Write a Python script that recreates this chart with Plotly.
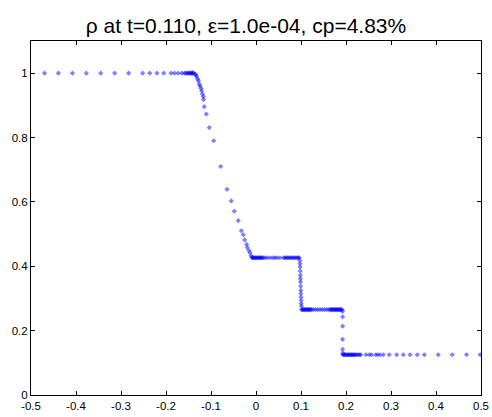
import plotly.graph_objects as go

# ---- data ----
x_left = [-0.470, -0.439, -0.408, -0.377, -0.345, -0.314, -0.283, -0.252, -0.236, -0.220,
          -0.205, -0.189, -0.181, -0.173, -0.165, -0.159, -0.156, -0.153, -0.150, -0.148,
          -0.146, -0.144, -0.142, -0.141]
rho_left = [1.0] * len(x_left)

x_rare = [-0.1393, -0.1356, -0.1333, -0.1319, -0.1296, -0.128, -0.126, -0.1244, -0.122, -0.1207,
          -0.119, -0.117, -0.1165, -0.115, -0.1104, -0.1037, -0.094, -0.0785, -0.0644, -0.0549,
          -0.0482, -0.0393, -0.0326, -0.0282, -0.0252, -0.0207, -0.0193, -0.0156, -0.0133, -0.0111,
          -0.0089]
rho_rare = [1.001, 0.997, 0.995, 0.989, 0.982, 0.976, 0.966, 0.960, 0.953, 0.945,
            0.935, 0.927, 0.918, 0.896, 0.873, 0.831, 0.790, 0.710, 0.639, 0.603,
            0.571, 0.542, 0.510, 0.498, 0.482, 0.468, 0.458, 0.449, 0.442, 0.433,
            0.427]

x_plat1 = [-0.0075, -0.006, -0.004, -0.002, 0.0, 0.002, 0.004, 0.006, 0.008, 0.010,
           0.012, 0.014, 0.016, 0.020, 0.025, 0.031, 0.037, 0.042, 0.047, 0.053,
           0.061, 0.064, 0.067, 0.070, 0.073, 0.076, 0.079, 0.082, 0.085, 0.088,
           0.091, 0.094, 0.096]
rho_plat1 = [0.4265] * len(x_plat1)

x_contact = [0.0975, 0.0978, 0.0980, 0.0982, 0.0985, 0.0987, 0.0990, 0.0992, 0.0995, 0.0997,
             0.1000, 0.1003, 0.1006, 0.1010]
rho_contact = [0.418, 0.408, 0.398, 0.385, 0.372, 0.361, 0.351, 0.338, 0.325, 0.315,
               0.304, 0.294, 0.284, 0.276]

x_plat2 = [0.1015, 0.103, 0.105, 0.107, 0.109, 0.111, 0.113, 0.115, 0.117, 0.119,
           0.121, 0.123, 0.127, 0.132, 0.137, 0.142, 0.147, 0.152, 0.157, 0.162,
           0.165, 0.167, 0.169, 0.171, 0.173, 0.175, 0.177, 0.179, 0.181, 0.183,
           0.185, 0.187, 0.189, 0.191]
rho_plat2 = [0.2656] * len(x_plat2)

x_shock = [0.1925, 0.1925, 0.1925, 0.1925, 0.1925, 0.1928]
rho_shock = [0.260, 0.243, 0.214, 0.173, 0.142, 0.130]

x_right = [0.193, 0.195, 0.197, 0.199, 0.201, 0.203, 0.205, 0.207, 0.209, 0.211,
           0.213, 0.215, 0.217, 0.219, 0.221, 0.224, 0.227, 0.230, 0.233, 0.2444,
           0.2519, 0.2570, 0.2660, 0.2704, 0.2756, 0.283, 0.296, 0.3126, 0.3274, 0.3422,
           0.3585, 0.374, 0.405, 0.436, 0.468, 0.498]
rho_right = [0.125] * len(x_right)

x_ticks = [-0.5, -0.4, -0.3, -0.2, -0.1, 0, 0.1, 0.2, 0.3, 0.4, 0.5]
x_tick_labels = ["-0.5", "-0.4", "-0.3", "-0.2", "-0.1", "0", "0.1", "0.2", "0.3", "0.4", "0.5"]
y_ticks = [0, 0.2, 0.4, 0.6, 0.8, 1]
y_tick_labels = ["0", "0.2", "0.4", "0.6", "0.8", "1"]

title_text = "ρ at t=0.110, ε=1.0e-04, cp=4.83%"

xs = x_left + x_rare + x_plat1 + x_contact + x_plat2 + x_shock + x_right
ys = rho_left + rho_rare + rho_plat1 + rho_contact + rho_plat2 + rho_shock + rho_right

fig = go.Figure()
fig.add_trace(go.Scatter(
    x=xs, y=ys, mode="markers",
    marker=dict(symbol="diamond", size=4, color="rgba(0,0,255,0.5)", line=dict(width=0)),
    showlegend=False,
))

font_family = "Liberation Sans, Arial, sans-serif"
axis_common = dict(
    showline=True, linecolor="black", linewidth=1, mirror="ticks",
    ticks="inside", ticklen=4, tickcolor="black", showgrid=False, zeroline=False,
    automargin=False,
    tickfont=dict(family=font_family, size=11.5, color="black"),
)
fig.update_xaxes(range=[-0.5, 0.5], tickmode="array", tickvals=x_ticks, ticktext=x_tick_labels,
                 **axis_common)
fig.update_yaxes(range=[0, 1.1], tickmode="array", tickvals=y_ticks, ticktext=y_tick_labels,
                 **axis_common)
fig.update_layout(
    width=492, height=417,
    margin=dict(l=31, r=11, t=41, b=22, autoexpand=False),
    paper_bgcolor="white", plot_bgcolor="white",
    title=dict(text=title_text, x=0.5, xanchor="center", y=0.939, yanchor="middle",
               font=dict(family=font_family, size=21, color="black")),
)
fig.write_html(
    "out.html",
    config={"displayModeBar": False},
    post_script="document.body.style.margin='0';document.body.style.overflow='hidden';",
)
